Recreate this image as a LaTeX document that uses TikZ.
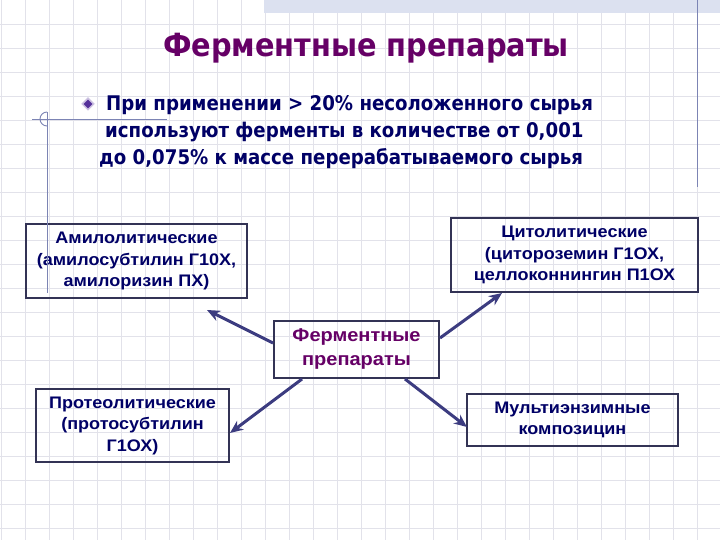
\documentclass[tikz,border=0pt]{standalone}
\usepackage{fontspec}
\setmainfont{Liberation Sans}
\newfontfamily\boxfont{Liberation Sans}[FakeStretch=1.08]
\newfontfamily\tfont{DejaVu Sans Condensed}
\usetikzlibrary{shapes.geometric,arrows.meta,calc}
\definecolor{titlec}{HTML}{660066}
\definecolor{navy}{HTML}{000066}
\definecolor{gridc}{HTML}{E2E2EA}
\definecolor{boxc}{HTML}{333355}
\definecolor{arrc}{HTML}{3C3C80}
\definecolor{decoc}{HTML}{7C84B4}
\definecolor{hatchc}{HTML}{DCE1F0}
\definecolor{bulc}{HTML}{55309A}
\tikzset{
  gridline/.style={draw=gridc, line width=0.6pt},
  decoline/.style={draw=decoc, line width=0.9pt},
  catbox/.style={draw=boxc, line width=1.2pt, inner sep=0pt, align=center,
     text=navy, font=\boxfont\bfseries\fontsize{16.7}{21.5}\selectfont},
  hubbox/.style={catbox, line width=2pt, text=titlec, font=\boxfont\bfseries\fontsize{18.5}{24}\selectfont},
  bodyline/.style={anchor=west, inner sep=0pt, text=navy, font=\tfont\bfseries\fontsize{20.2}{24}\selectfont},
  arr/.style={draw=arrc, line width=3pt, -{Stealth[length=13pt,width=11pt]}}
}
\begin{document}
\begin{tikzpicture}[x=1pt,y=-1pt]
\useasboundingbox (0,0) rectangle (720,540);
\fill[white] (0,0) rectangle (720,540);
% background grid
\foreach \i in {0,...,29} \draw[gridline] (24*\i+1,0) -- (24*\i+1,540);
\foreach \j in {1,...,22} \draw[gridline] (0,24*\j) -- (720,24*\j);
% decorations
\fill[hatchc] (264,0) rectangle (720,13);
\draw[decoline] (697,0) -- (697,187);
% title
\node[text=titlec, font=\tfont\bfseries\fontsize{32}{38}\selectfont] (title) at (366,48) {Ферментные препараты};
% bullet text
\node[diamond, fill=bulc, draw=white!70!bulc, line width=1.5pt, minimum size=12pt, inner sep=0pt] (bul) at (88,104) {};
\node[bodyline] (l1) at (106,105) {При применении > 20\% несоложенного сырья};
\node[bodyline] (l2) at (105,132) {используют ферменты в количестве от 0,001};
\node[bodyline] (l3) at (99,159) {до 0,075\% к массе перерабатываемого сырья};
% boxes
\node[catbox, minimum width=221pt, minimum height=74pt] (amy) at (136.5,261) {Амилолитические\\(амилосубтилин Г10Х,\\амилоризин ПХ)};
\node[catbox, minimum width=247pt, minimum height=74pt] (cyto) at (574.5,255) {Цитолитические\\(цитороземин Г1ОХ,\\целлоконнингин П1ОХ};
\node[hubbox, minimum width=165pt, minimum height=57pt] (hub) at (356.5,349.5) {Ферментные\\препараты};
\node[catbox, minimum width=193pt, minimum height=73pt] (prot) at (132.5,425.5) {Протеолитические\\(протосубтилин\\Г1ОХ)};
\node[catbox, minimum width=211pt, minimum height=52pt] (multi) at (572.5,420) {Мультиэнзимные\\композицин};
% left decoration (drawn over the box)
\draw[decoline] (32,119) -- (167,119);
\draw[decoline] (47,112) -- (47,293);
\draw[decoline] (47,126) arc (90:270:7);
% arrow tips
\coordinate (ta) at (207,310);
\coordinate (tc) at (502,293);
\coordinate (tp) at (230,433);
\coordinate (tm) at (467,427);
\draw[arr] ([yshift=6.5pt]hub.west) -- (ta);
\draw[arr] ([yshift=11.5pt]hub.east) -- (tc);
\draw[arr] ([xshift=-54.5pt]hub.south) -- (tp);
\draw[arr] ([xshift=48.5pt]hub.south) -- (tm);
\end{tikzpicture}
\end{document}
